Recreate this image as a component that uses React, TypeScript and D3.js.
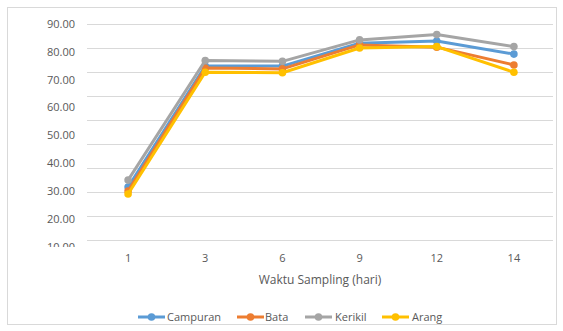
import React from "react";
import * as d3 from "d3";

// Sampling days (x categories)
const days = ["1", "3", "6", "9", "12", "14"];

// Series values per sampling day
const campuran = [31.5, 74.9, 74.9, 83.1, 83.9, 79.2];
const bata = [30.1, 74.2, 73.9, 82.5, 81.7, 75.3];
const kerikil = [34.0, 76.9, 76.6, 84.3, 86.2, 81.9];
const arang = [29.0, 72.7, 72.5, 81.4, 81.9, 72.7];

// Value axis tick labels
const yTicks = [10, 20, 30, 40, 50, 60, 70, 80, 90];

const seriesNames = ["Campuran", "Bata", "Kerikil", "Arang"];
const seriesColors = ["#5B9BD5", "#ED7D31", "#A5A5A5", "#FFC000"];

const W = 563;
const H = 331;
const FONT = "'Open Sans', 'Noto Sans', sans-serif";

export default function App() {
  const series = [campuran, bata, kerikil, arang];

  const x = d3.scaleBand<string>().domain(days).range([89.5, 552.5]);
  const cx = (d: string) => (x(d) ?? 0) + x.bandwidth() / 2;

  // value scale used for tick labels and data
  const y = d3.scaleLinear().domain([10, 90]).range([247, 24]);
  // horizontal grid band behind the plot
  const grid = d3.scaleLinear().domain([0, 90]).range([240.5, 24.5]);
  const gridValues = grid.ticks(9);

  const line = d3
    .line<number>()
    .x((_, i) => cx(days[i]))
    .y((v) => y(v));

  const legendItems = [
    { lx: 138, tx: 167 },
    { lx: 237, tx: 265 },
    { lx: 305, tx: 335 },
    { lx: 382, tx: 412 },
  ];

  return (
    <svg
      width={W}
      height={H}
      style={{ position: "absolute", left: 0, top: 0, background: "#fff" }}
      fontFamily={FONT}
    >
      <defs>
        <clipPath id="ylab-clip">
          <rect x={0} y={0} width={90} height={247} />
        </clipPath>
      </defs>
      <rect x={7.5} y={7.5} width={549} height={317} fill="#fff" stroke="#D9D9D9" strokeWidth={1} />

      {gridValues.map((g) => (
        <line key={g} x1={87} x2={553} y1={grid(g)} y2={grid(g)} stroke="#D9D9D9" strokeWidth={1} />
      ))}

      <g clipPath="url(#ylab-clip)">
        {yTicks.map((t) => (
          <text
            key={t}
            x={75}
            y={y(t)}
            dy="0.35em"
            textAnchor="end"
            fontSize={11}
            fill="#595959"
          >
            {t.toFixed(2)}
          </text>
        ))}
      </g>

      {days.map((d) => (
        <text key={d} x={cx(d)} y={258} dy="0.35em" textAnchor="middle" fontSize={11} fill="#595959">
          {d}
        </text>
      ))}

      <text x={320} y={280} dy="0.35em" textAnchor="middle" fontSize={12} fill="#595959">
        Waktu Sampling (hari)
      </text>

      {series.map((s, i) => (
        <g key={seriesNames[i]}>
          <path d={line(s) ?? ""} fill="none" stroke={seriesColors[i]} strokeWidth={3} strokeLinejoin="round" />
          {s.map((v, j) => (
            <circle key={j} cx={cx(days[j])} cy={y(v)} r={3.8} fill={seriesColors[i]} />
          ))}
        </g>
      ))}

      {seriesNames.map((name, i) => (
        <g key={name}>
          <line
            x1={legendItems[i].lx}
            x2={legendItems[i].lx + 27}
            y1={317}
            y2={317}
            stroke={seriesColors[i]}
            strokeWidth={3}
          />
          <circle cx={legendItems[i].lx + 13.5} cy={317} r={3.8} fill={seriesColors[i]} />
          <text x={legendItems[i].tx} y={317} dy="0.35em" fontSize={11} fill="#595959">
            {name}
          </text>
        </g>
      ))}
    </svg>
  );
}
